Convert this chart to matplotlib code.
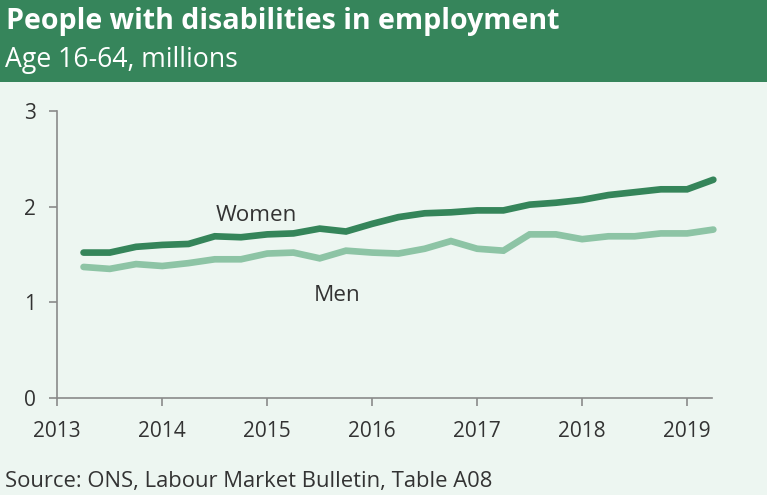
import matplotlib
matplotlib.use("Agg")
import matplotlib.pyplot as plt
import numpy as np

plt.rcParams['font.family'] = ['Open Sans', 'DejaVu Sans']

# Quarterly observations, Q2 2013 to Q2 2019 (millions, age 16-64)
quarters = np.arange(2013.25, 2019.26, 0.25)
women = [1.52, 1.52, 1.58, 1.60, 1.61, 1.69, 1.68, 1.71, 1.72, 1.77, 1.74, 1.82,
         1.89, 1.93, 1.94, 1.96, 1.96, 2.02, 2.04, 2.07, 2.12, 2.15, 2.18, 2.18, 2.28]
men = [1.37, 1.35, 1.40, 1.38, 1.41, 1.45, 1.45, 1.51, 1.52, 1.46, 1.54, 1.52,
       1.51, 1.56, 1.64, 1.56, 1.54, 1.71, 1.71, 1.66, 1.69, 1.69, 1.72, 1.72, 1.76]
year_ticks = [2013, 2014, 2015, 2016, 2017, 2018, 2019]
value_ticks = [0, 1, 2, 3]

title = "People with disabilities in employment"
subtitle = "Age 16-64, millions"
source = "Source: ONS, Labour Market Bulletin, Table A08"

HEADER = "#36855b"
DARK = "#35855a"
LIGHT = "#8dc4a5"
BG = "#edf6f1"
TEXT = "#333333"
AXIS = "#8a8a8a"

W, H = 767, 495
fig = plt.figure(figsize=(W / 100, H / 100), dpi=100, facecolor=BG)

# Header band
fig.patches.append(plt.Rectangle((0, 1 - 82 / H), 1, 82 / H, transform=fig.transFigure,
                                 facecolor=HEADER, edgecolor='none', zorder=0))
fig.text(6 / W, 1 - 29.5 / H, title, color="white", fontsize=20.6, fontweight="bold",
         ha="left", va="baseline")
fig.text(5 / W, 1 - 67 / H, subtitle, color="white", fontsize=19.2,
         ha="left", va="baseline")
fig.text(5 / W, 1 - 486.5 / H, source, color=TEXT, fontsize=15.8,
         ha="left", va="baseline")

left, right = 57.3 / W, 712.3 / W
bottom, top = 1 - 398.3 / H, 1 - 110.7 / H
ax = fig.add_axes([left, bottom, right - left, top - bottom])
ax.set_facecolor(BG)

ax.plot(quarters, women, color=DARK, lw=4.8, solid_capstyle="round",
        solid_joinstyle="miter", clip_on=False)
ax.plot(quarters, men, color=LIGHT, lw=4.8, solid_capstyle="round",
        solid_joinstyle="miter", clip_on=False)

ax.text(2014.9, 1.845, "Women", color=TEXT, fontsize=16.2, ha="center", va="baseline")
ax.text(2015.67, 1.02, "Men", color=TEXT, fontsize=16.2, ha="center", va="baseline")

ax.set_xlim(2013, 2019.24)
ax.set_ylim(0, 3)
ax.set_xticks(year_ticks)
ax.set_xticklabels([str(y) for y in year_ticks])
ax.set_yticks(value_ticks)
ax.set_yticklabels([str(v) for v in value_ticks])

for side in ("top", "right"):
    ax.spines[side].set_visible(False)
for side in ("left", "bottom"):
    ax.spines[side].set_color(AXIS)
    ax.spines[side].set_linewidth(1.2)

ax.tick_params(axis="both", colors=AXIS, labelcolor=TEXT, labelsize=15,
               length=5.5, width=1.2, direction="out")
ax.tick_params(axis="x", pad=10.5)
ax.tick_params(axis="y", pad=10)

fig.savefig("out.png", dpi=100, facecolor=BG)
